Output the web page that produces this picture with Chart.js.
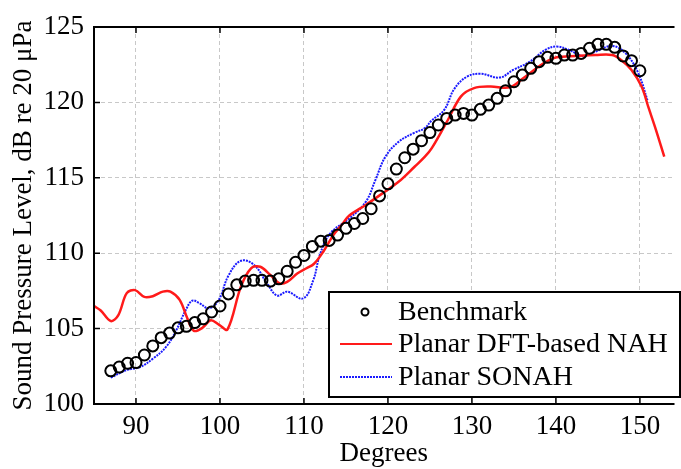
<!DOCTYPE html>
<html>
<head>
<meta charset="utf-8">
<script src="https://cdn.jsdelivr.net/npm/chart.js@4.4.1/dist/chart.umd.min.js"></script>
<style>
  html, body { margin: 0; padding: 0; background: #fff; }
  #wrap { width: 681px; height: 469px; }
</style>
</head>
<body>
<div id="wrap"><canvas id="splChart"></canvas></div>
<script>
// tick labels
var xTicks = [90, 100, 110, 120, 130, 140, 150];
var yTicks = [100, 105, 110, 115, 120, 125];

// Benchmark (measured every degree)
var benchDeg = [87, 88, 89, 90, 91, 92, 93, 94, 95, 96, 97, 98, 99, 100, 101, 102, 103, 104, 105, 106, 107, 108,
    109, 110, 111, 112, 113, 114, 115, 116, 117, 118, 119, 120, 121, 122, 123, 124, 125, 126, 127, 128, 129,
    130, 131, 132, 133, 134, 135, 136, 137, 138, 139, 140, 141, 142, 143, 144, 145, 146, 147, 148, 149, 150];
var benchSpl = [102.2, 102.45, 102.7, 102.75, 103.25, 103.85, 104.4, 104.7, 105.05, 105.15, 105.4, 105.65, 106.1,
    106.5, 107.3, 107.9, 108.15, 108.2, 108.2, 108.15, 108.3, 108.8, 109.4, 109.85, 110.45, 110.8, 110.85,
    111.2, 111.65, 111.97, 112.3, 112.95, 113.8, 114.6, 115.58, 116.33, 116.9, 117.46, 118.0, 118.5, 118.94,
    119.16, 119.27, 119.16, 119.54, 119.82, 120.27, 120.77, 121.37, 121.81, 122.26, 122.7, 122.99, 122.92,
    123.14, 123.14, 123.25, 123.59, 123.85, 123.85, 123.65, 123.08, 122.77, 122.1];

// Planar DFT-based NAH
var nahDeg = [85, 85.8, 87.0, 87.9, 88.9, 89.9, 91.0, 92.0, 93.2, 94.1, 95.2, 96.1, 96.9, 97.9, 98.9, 99.9, 100.9,
    102.5, 103.7, 104.8, 106.0, 107.1, 108.0, 109.2, 110.3, 111.2, 112.3, 113.5, 114.6, 115.4, 117.35, 119.3,
    121.3, 123.2, 124.4, 125.2, 127.1, 128.7, 130.25, 132.2, 134.5, 136.1, 138.0, 139.2, 140.1, 142.4, 144.7,
    146.7, 147.8, 149.0, 150.2, 151.0, 151.9, 152.9];
var nahSpl = [106.5, 106.2, 105.5, 105.9, 107.35, 107.55, 107.1, 107.15, 107.45, 107.45, 106.9, 105.7, 104.85,
    105.05, 105.55, 105.25, 104.95, 107.8, 109.0, 109.1, 108.55, 108.0, 108.1, 108.65, 109.0, 109.3, 110.1,
    111.2, 111.95, 112.5, 113.2, 113.95, 114.75, 115.75, 116.4, 116.95, 118.8, 120.4, 120.95, 121.05, 121.0,
    121.6, 122.4, 122.8, 123.0, 123.08, 123.14, 123.14, 122.8, 122.15, 121.05, 119.7, 118.2, 116.4];

// Planar SONAH
var sonahDeg = [87.0, 88.9, 90.5, 92.0, 93.6, 94.8, 95.9, 96.7, 97.5, 98.7, 99.85, 101.0, 102.5, 104.1, 105.6,
    106.8, 108.0, 109.9, 111.1, 111.9, 113.1, 115.4, 117.35, 118.5, 119.7, 121.3, 123.2, 124.4, 125.2, 126.7,
    127.9, 129.4, 131.0, 133.3, 134.9, 136.9, 138.8, 140.1, 141.6, 143.2, 144.7, 146.7, 148.3, 149.8, 150.9];
var sonahSpl = [101.75, 102.25, 102.45, 103.0, 103.8, 104.9, 106.2, 106.85, 106.7, 106.35, 106.9, 108.5, 109.5,
    109.2, 108.0, 107.2, 107.45, 107.0, 108.2, 109.9, 111.3, 112.3, 113.4, 114.85, 116.4, 117.4, 118.0, 118.3,
    118.8, 119.5, 120.9, 121.7, 121.9, 121.65, 122.15, 122.7, 123.5, 123.7, 123.47, 123.08, 123.36, 123.74,
    123.25, 121.95, 120.15];

function pairs(xs, ys) {
    return xs.map(function (x, i) { return { x: x, y: ys[i] }; });
}

var serif = '"Liberation Serif", "Times New Roman", serif';

// frame, inward ticks and the boxed legend inside the plot
var framePlugin = {
    id: 'frame',
    afterDraw: function (chart) {
        var ctx = chart.ctx, a = chart.chartArea;
        var xs = chart.scales.x, ys = chart.scales.y;
        ctx.save();
        ctx.strokeStyle = '#000';
        ctx.lineWidth = 2;
        ctx.beginPath();
        ctx.moveTo(a.right + 1, a.top);
        ctx.lineTo(a.left, a.top);
        ctx.lineTo(a.left, a.bottom);
        ctx.lineTo(a.right + 1, a.bottom);
        ctx.stroke();

        ctx.lineWidth = 1.5;
        ctx.beginPath();
        xTicks.forEach(function (v) {
            var px = xs.getPixelForValue(v);
            ctx.moveTo(px, a.bottom); ctx.lineTo(px, a.bottom - 6);
            ctx.moveTo(px, a.top); ctx.lineTo(px, a.top + 6);
        });
        yTicks.forEach(function (v) {
            var py = ys.getPixelForValue(v);
            ctx.moveTo(a.left, py); ctx.lineTo(a.left + 6, py);
        });
        ctx.stroke();

        // legend
        var lx = 329, ly = 292, lw = 351, lh = 105;
        ctx.fillStyle = '#fff';
        ctx.fillRect(lx, ly, lw, lh);
        ctx.lineWidth = 2;
        ctx.strokeStyle = '#000';
        ctx.strokeRect(lx, ly, lw, lh);

        var rows = [312, 344, 377];
        ctx.font = '28px ' + serif;
        ctx.fillStyle = '#000';
        ctx.textBaseline = 'middle';
        ctx.textAlign = 'left';
        var names = chart.data.datasets.map(function (d) { return d.label; });

        ctx.beginPath();
        ctx.arc(365, rows[0], 3.5, 0, Math.PI * 2);
        ctx.lineWidth = 2;
        ctx.stroke();

        ctx.beginPath();
        ctx.strokeStyle = '#ff1a1a';
        ctx.lineWidth = 2;
        ctx.moveTo(340, rows[1]); ctx.lineTo(392, rows[1]);
        ctx.stroke();

        ctx.beginPath();
        ctx.strokeStyle = '#1a1aff';
        ctx.setLineDash([2, 1]);
        ctx.moveTo(340, rows[2]); ctx.lineTo(392, rows[2]);
        ctx.stroke();
        ctx.setLineDash([]);

        names.forEach(function (n, i) {
            ctx.fillText(n, 398, rows[i] + 1);
        });
        ctx.restore();
    }
};

var ctxS = document.getElementById('splChart').getContext('2d');
var splChart = new Chart(ctxS, {
    type: 'scatter',
    data: {
        datasets: [{
            label: 'Benchmark',
            data: pairs(benchDeg, benchSpl),
            showLine: false,
            pointStyle: 'circle',
            pointRadius: 5.5,
            pointBorderWidth: 2,
            pointBorderColor: '#000',
            pointBackgroundColor: 'rgba(0,0,0,0)'
        }, {
            label: 'Planar DFT-based NAH',
            data: pairs(nahDeg, nahSpl),
            showLine: true,
            borderColor: '#ff1a1a',
            borderWidth: 2.5,
            pointRadius: 0,
            tension: 0.35
        }, {
            label: 'Planar SONAH',
            data: pairs(sonahDeg, sonahSpl),
            showLine: true,
            borderColor: '#1a1aff',
            borderWidth: 2,
            borderDash: [2, 1],
            pointRadius: 0,
            tension: 0.4
        }]
    },
    options: {
        responsive: true,
        maintainAspectRatio: false,
        animation: false,
        layout: { padding: { top: 27, right: 0, left: 0, bottom: 0 } },
        plugins: {
            legend: { display: false },
            tooltip: { enabled: false }
        },
        scales: {
            x: {
                type: 'linear',
                min: 85,
                max: 154,
                afterBuildTicks: function (scale) {
                    scale.ticks = xTicks.map(function (v) { return { value: v }; });
                },
                afterFit: function (scale) { scale.height = 65; },
                grid: { color: '#c8c8c8', lineWidth: 1, drawTicks: false },
                border: { display: false, dash: [4, 3] },
                ticks: {
                    padding: 7,
                    color: '#000',
                    maxRotation: 0,
                    font: { family: serif, size: 27 }
                },
                title: {
                    display: true,
                    text: 'Degrees',
                    color: '#000',
                    padding: { top: 0, bottom: 0 },
                    font: { family: serif, size: 27, lineHeight: 1.1 }
                }
            },
            y: {
                min: 100,
                max: 125,
                afterBuildTicks: function (scale) {
                    scale.ticks = yTicks.map(function (v) { return { value: v }; });
                },
                afterFit: function (scale) { scale.width = 94; },
                grid: { color: '#c8c8c8', lineWidth: 1, drawTicks: false },
                border: { display: false, dash: [4, 3] },
                ticks: {
                    padding: 10,
                    color: '#000',
                    font: { family: serif, size: 27 }
                },
                title: {
                    display: true,
                    text: 'Sound Pressure Level, dB re 20 μPa',
                    color: '#000',
                    padding: { top: 10, bottom: 0 },
                    font: { family: serif, size: 27, lineHeight: 1.0 }
                }
            }
        }
    },
    plugins: [framePlugin]
});
</script>
</body>
</html>
